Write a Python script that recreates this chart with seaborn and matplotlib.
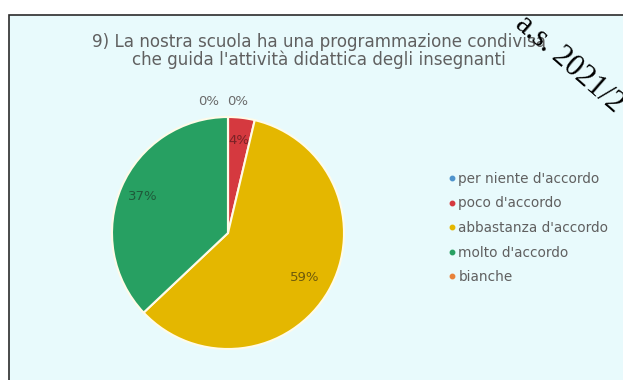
import matplotlib
matplotlib.use("Agg")
import matplotlib.pyplot as plt
from matplotlib.patches import Rectangle
from matplotlib.lines import Line2D
import numpy as np
import seaborn as sns

# -----------------------
# Data
# -----------------------

categories = [
    "per niente d'accordo",
    "poco d'accordo",
    "abbastanza d'accordo",
    "molto d'accordo",
    "bianche"
]

counts = [0, 1, 16, 10, 0]

pct_labels = ["0%", "4%", "59%", "37%", "0%"]

slice_colors = ["#4f94cd", "#d5393f", "#e4b700", "#27a062", "#e8823a"]

label_colors = ["#595959", "#7a2226", "#6e5a0c", "#1f5a3a", "#595959"]

title = (
    "9) La nostra scuola ha una programmazione condivisa\n"
    "che guida l'attività didattica degli insegnanti"
)

stamp = "a.s. 2021/2"

sns.set_theme(style="white")
plt.rcParams["font.family"] = ["DejaVu Sans"]

W, H = 623, 380
fig = plt.figure(figsize=(W / 100, H / 100), dpi=100)
fig.patch.set_facecolor("white")

# chart frame (behind the pie)
frame = Rectangle(
    (9 / W, -0.01),
    1.0,
    1 - 15 / H + 0.01,
    transform=fig.transFigure,
    facecolor="#e8fafc",
    edgecolor="#2b2b2b",
    linewidth=1.2,
    zorder=-5
)
fig.patches.append(frame)

fig.text(
    319 / W,
    1 - 51 / H,
    title,
    ha="center",
    va="center",
    fontsize=12.1,
    color="#606060",
    linespacing=0.95
)

# -----------------------
# Pie
# -----------------------

cx, cy, r = 228, 233, 116
ax = fig.add_axes([(cx - r) / W, (H - cy - r) / H, 2 * r / W, 2 * r / H])
ax.set_facecolor("none")

wedges, _ = ax.pie(
    counts,
    colors=slice_colors,
    startangle=90,
    counterclock=False,
    radius=1.0,
    wedgeprops=dict(edgecolor="#fffbe8", linewidth=1.5)
)

zero_side = 0
for w, lab, col in zip(wedges, pct_labels, label_colors):
    mid = np.deg2rad((w.theta1 + w.theta2) / 2)
    if w.theta2 - w.theta1 < 1e-6:
        if zero_side == 0:
            ax.text(-0.01, 1.13, lab, ha="left", va="center",
                    fontsize=9.5, color="#6a6a6a")
        else:
            ax.text(-0.08, 1.13, lab, ha="right", va="center",
                    fontsize=9.5, color="#6a6a6a")
        zero_side += 1
        continue
    d = 0.8 if w.theta2 - w.theta1 < 180 else 0.76
    ax.text(d * np.cos(mid), d * np.sin(mid), lab, ha="center", va="center",
            fontsize=9.5, color=col)

ax.set_xlim(-1, 1)
ax.set_ylim(-1, 1)
ax.set_aspect("equal")
ax.axis("off")

# -----------------------
# Legend
# -----------------------

handles = [
    Line2D([0], [0], marker="o", linestyle="", markersize=3.2,
           markerfacecolor=c, markeredgecolor=c)
    for c in slice_colors
]

fig.legend(
    handles,
    categories,
    loc="center left",
    bbox_to_anchor=(442 / W, 1 - 228 / H),
    frameon=False,
    fontsize=9.8,
    labelcolor="#606060",
    handlelength=0.45,
    handletextpad=0.25,
    labelspacing=0.78,
    borderpad=0
)

# stamp over the corner
fig.text(
    514 / W,
    1 - 26 / H,
    stamp,
    rotation=-41,
    rotation_mode="anchor",
    ha="left",
    va="baseline",
    fontsize=22,
    family="Liberation Serif",
    color="black"
)

plt.savefig("out.png", dpi=100, facecolor=fig.get_facecolor())
plt.close()
